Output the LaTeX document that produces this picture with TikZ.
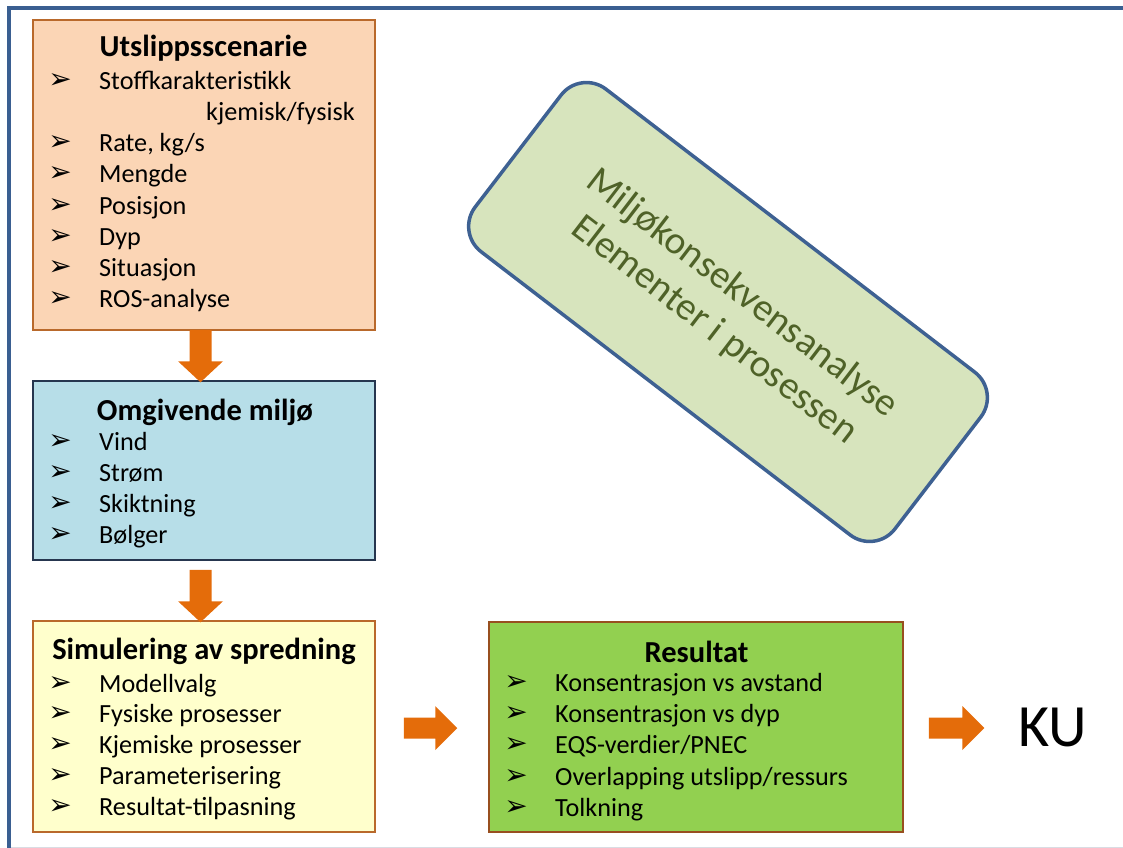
\documentclass[tikz,border=0pt]{standalone}
\usepackage{fontspec}
\setmainfont{Carlito}
\newfontfamily\dejavu{DejaVu Sans}
\usetikzlibrary{calc}
\definecolor{framec}{HTML}{3A5F91}
\definecolor{arrc}{HTML}{E46C0A}
\definecolor{peach}{HTML}{FBD5B5}
\definecolor{peachb}{HTML}{B9692B}
\definecolor{skyb}{HTML}{B7DEE8}
\definecolor{skybd}{HTML}{26364F}
\definecolor{yel}{HTML}{FFFFCC}
\definecolor{grn}{HTML}{92D050}
\definecolor{grnb}{HTML}{984F1F}
\definecolor{sage}{HTML}{D7E4BD}
\definecolor{sageb}{HTML}{3E6192}
\definecolor{olive}{HTML}{4F6228}
\definecolor{greyline}{HTML}{D9DCE3}
\newcommand\bulletglyph{➢}
\newcommand\bitem[5]{%
  \node[bul] (#1b) at (#2,#4) {\bulletglyph};
  \node[itm] (#1) at (#3,#4) {#5};}
\begin{document}
\begin{tikzpicture}[x=1bp,y=-1bp,
  box/.style={draw, line width=1.5bp, inner sep=0pt, rectangle},
  ttl/.style={font=\fontsize{30.5bp}{36bp}\selectfont\bfseries, inner sep=0pt, anchor=center, yshift=-2bp},
  itm/.style={font=\fontsize{26.2bp}{31bp}\selectfont, inner sep=0pt, anchor=mid west, yshift=-6bp},
  bul/.style={font=\dejavu\fontsize{28bp}{30bp}\selectfont, inner sep=0pt, anchor=center},
  arr/.style={fill=arrc},
  frame/.style={draw=framec, line width=4bp}]
\useasboundingbox (0,0) rectangle (1123,848);
% frame
\draw[greyline, line width=1bp] (11,847) -- (1123,847);
\draw[frame] (9,850) -- (9,7.5) -- (1125,7.5);

% boxes
\node[box, draw=peachb, fill=peach, minimum width=342bp, minimum height=310bp] (b1) at (204,175) {};
\node[box, draw=skybd, fill=skyb, minimum width=342bp, minimum height=179bp] (b2) at (204,470.5) {};
\node[box, draw=peachb, fill=yel, minimum width=342bp, minimum height=211bp] (b3) at (204,726.5) {};
\node[box, draw=grnb, fill=grn, minimum width=414bp, minimum height=210bp] (b4) at (696,727) {};

% box 1
\node[ttl] (t1) at (203.5,46) {Utslippsscenarie};
\bitem{i11}{60}{99}{81}{Stoffkarakteristikk}
\node[itm] (i11c) at (206,112) {kjemisk/fysisk};
\bitem{i12}{60}{99}{143}{Rate, kg/s}
\bitem{i13}{60}{99}{174}{Mengde}
\bitem{i14}{60}{99}{206}{Posisjon}
\bitem{i15}{60}{99}{237}{Dyp}
\bitem{i16}{60}{99}{268}{Situasjon}
\bitem{i17}{60}{99}{299}{ROS-analyse}

% box 2
\node[ttl] (t2) at (205,410) {Omgivende miljø};
\bitem{i21}{60}{99}{442}{Vind}
\bitem{i22}{60}{99}{473}{Strøm}
\bitem{i23}{60}{99}{504}{Skiktning}
\bitem{i24}{60}{99}{535}{Bølger}

% box 3
\node[ttl] (t3) at (204,649) {Simulering av spredning};
\bitem{i31}{60}{99}{684}{Modellvalg}
\bitem{i32}{60}{99}{714}{Fysiske prosesser}
\bitem{i33}{60}{99}{745}{Kjemiske prosesser}
\bitem{i34}{60}{99}{776}{Parameterisering}
\bitem{i35}{60}{99}{807}{Resultat-tilpasning}

% box 4
\node[ttl] (t4) at (696.5,650) {Resultat};
\bitem{i41}{516}{555}{683}{Konsentrasjon vs avstand}
\bitem{i42}{516}{555}{714}{Konsentrasjon vs dyp}
\bitem{i43}{516}{555}{745}{EQS-verdier/PNEC}
\bitem{i44}{516}{555}{777}{Overlapping utslipp/ressurs}
\bitem{i45}{516}{555}{808}{Tolkning}

% KU
\node[font=\fontsize{60bp}{66bp}\selectfont, inner sep=0pt] (ku) at (1053,727) {KU};

% rotated rounded box
\node[draw=sageb, fill=sage, line width=3.5bp, rounded corners=32bp,
      minimum width=529bp, minimum height=205bp, inner sep=0pt,
      rotate=-37.5] (mk) at (728,312) {};
\node[rotate=-37.5, text=olive, align=center, inner sep=0pt,
      font=\fontsize{39bp}{46bp}\selectfont] (mkt) at (mk.center)
      {Miljøkonsekvensanalyse\\Elementer i prosessen};

% block arrows
\coordinate (a1s) at ($(b1.south)+(-3.5,-1)$);
\coordinate (a1t) at ($(b2.north)+(-3.5,2)$);
\fill[arr] ($(a1s)+(-11,0)$) -- ($(a1s)+(11,0)$) -- ($(a1t)+(11,-21)$) -- ($(a1t)+(22.5,-21)$)
  -- (a1t) -- ($(a1t)+(-22.5,-21)$) -- ($(a1t)+(-11,-21)$) -- cycle;
\coordinate (a2s) at ($(b2.south)+(-3.5,9)$);
\coordinate (a2t) at ($(b3.north)+(-3.5,2)$);
\fill[arr] ($(a2s)+(-11,0)$) -- ($(a2s)+(11,0)$) -- ($(a2t)+(11,-21)$) -- ($(a2t)+(22.5,-21)$)
  -- (a2t) -- ($(a2t)+(-22.5,-21)$) -- ($(a2t)+(-11,-21)$) -- cycle;
\coordinate (a3s) at ($(b3.east)+(28,1.5)$);
\coordinate (a3t) at ($(b4.west)+(-31,1)$);
\fill[arr] ($(a3s)+(0,-10.5)$) -- ($(a3s)+(0,10.5)$) -- ($(a3t)+(-22,10.5)$) -- ($(a3t)+(-22,22)$)
  -- (a3t) -- ($(a3t)+(-22,-22)$) -- ($(a3t)+(-22,-10.5)$) -- cycle;
\coordinate (a4s) at ($(b4.east)+(25,1)$);
\coordinate (a4t) at ($(ku.west)+(-34,1)$);
\fill[arr] ($(a4s)+(0,-10.5)$) -- ($(a4s)+(0,10.5)$) -- ($(a4t)+(-22,10.5)$) -- ($(a4t)+(-22,22)$)
  -- (a4t) -- ($(a4t)+(-22,-22)$) -- ($(a4t)+(-22,-10.5)$) -- cycle;
\end{tikzpicture}
\end{document}
